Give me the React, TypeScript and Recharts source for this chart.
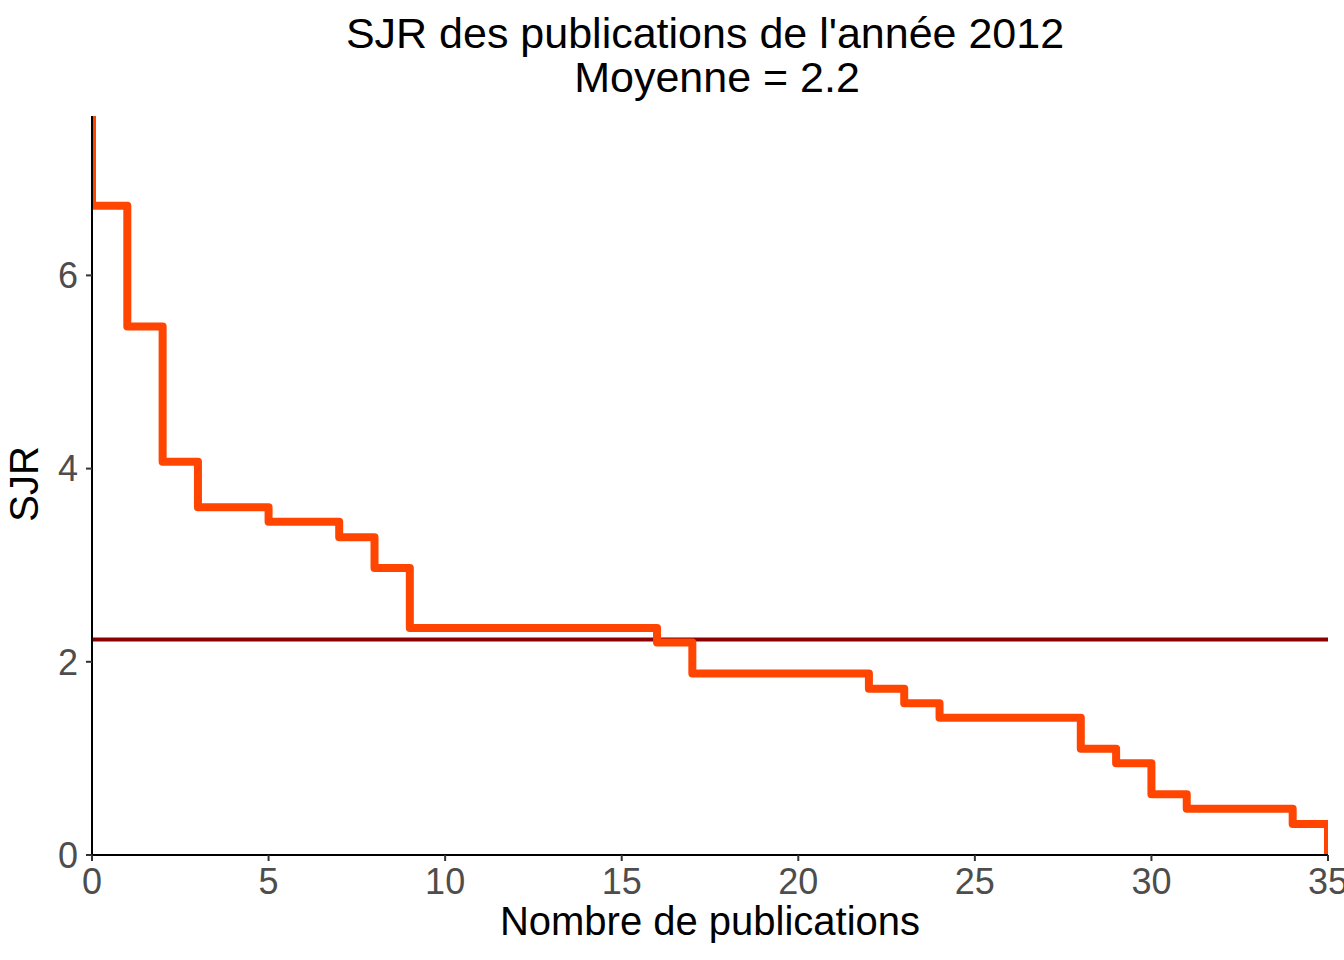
import { LineChart, Line, XAxis, YAxis, ReferenceLine } from "recharts";

// SJR of each 2012 publication, sorted high to low (rank 0..34)
const publicationRank = [
  0, 1, 2, 3, 4, 5, 6, 7, 8, 9, 10, 11, 12, 13, 14, 15, 16, 17, 18, 19, 20, 21, 22, 23, 24, 25, 26, 27, 28, 29, 30,
  31, 32, 33, 34,
];
const sjrValues = [
  6.72, 5.47, 4.07, 3.6, 3.6, 3.45, 3.45, 3.29, 2.97, 2.35, 2.35, 2.35, 2.35, 2.35, 2.35, 2.35, 2.2, 1.88, 1.88, 1.88,
  1.88, 1.88, 1.72, 1.57, 1.42, 1.42, 1.42, 1.42, 1.1, 0.95, 0.63, 0.48, 0.48, 0.48, 0.32,
];
const sjrTop = 7.65;
const publicationCount = 35;
const xTicks = [0, 5, 10, 15, 20, 25, 30, 35];
const yTicks = [0, 2, 4, 6];

const mean = sjrValues.reduce((a, b) => a + b, 0) / sjrValues.length;

const steps = [
  { x: 0, y: sjrTop },
  ...sjrValues.map((v, i) => ({ x: publicationRank[i], y: v })),
  { x: publicationCount, y: 0 },
];

const font = "'Liberation Sans', Arial, Helvetica, sans-serif";

export default function App() {
  return (
    <div style={{ position: "absolute", left: 0, top: 0, width: 1344, height: 960, background: "#fff", fontFamily: font }}>
      <LineChart width={1344} height={960} data={steps} margin={{ top: 116, right: 16, bottom: 0, left: 0 }}>
        <XAxis
          dataKey="x"
          type="number"
          domain={[0, publicationCount]}
          ticks={xTicks}
          allowDataOverflow
          height={105}
          axisLine={{ stroke: "#000", strokeWidth: 2 }}
          tickLine={{ stroke: "#333", strokeWidth: 2 }}
          tickSize={6}
          tickMargin={7}
          tick={{ fill: "#4d4d4d", fontSize: 36, fontFamily: font }}
          interval={0}
        />
        <YAxis
          type="number"
          domain={[0, sjrTop]}
          ticks={yTicks}
          allowDataOverflow
          width={92}
          axisLine={{ stroke: "#000", strokeWidth: 2 }}
          tickLine={{ stroke: "#333", strokeWidth: 2 }}
          tickSize={6}
          tickMargin={8}
          tick={{ fill: "#4d4d4d", fontSize: 36, fontFamily: font }}
          interval={0}
        />
        <ReferenceLine y={mean} stroke="#8B0000" strokeWidth={4} ifOverflow="hidden" />
        <Line
          dataKey="y"
          type="stepAfter"
          stroke="#FF4500"
          strokeWidth={8}
          strokeLinejoin="round"
          dot={false}
          activeDot={false}
          isAnimationActive={false}
        />
      </LineChart>
      <svg width={1344} height={960} style={{ position: "absolute", left: 0, top: 0, pointerEvents: "none" }}>
        <text x={705} y={48} textAnchor="middle" fontSize={43} fontFamily={font} fill="#000">
          SJR des publications de l'année 2012
        </text>
        <text x={717} y={92} textAnchor="middle" fontSize={43} fontFamily={font} fill="#000">
          {`Moyenne = ${mean.toFixed(1)}`}
        </text>
        <text x={710} y={935} textAnchor="middle" fontSize={40} fontFamily={font} fill="#000">
          Nombre de publications
        </text>
        <text x={38} y={484} textAnchor="middle" fontSize={40} fontFamily={font} fill="#000" transform="rotate(-90 38 484)">
          SJR
        </text>
      </svg>
    </div>
  );
}
